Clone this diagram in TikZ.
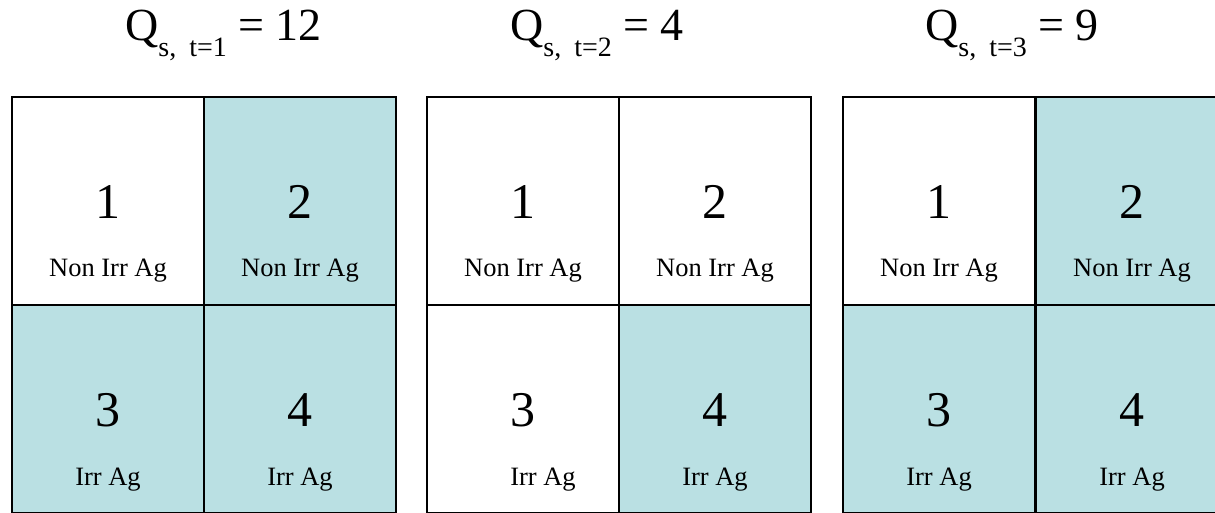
\documentclass[tikz,border=0pt]{standalone}
\usepackage{fontspec}
\setmainfont{Liberation Serif}
\usepackage{xcolor}
\definecolor{irrblue}{RGB}{186,224,227}

\begin{document}
\begin{tikzpicture}[x=1pt, y=-1pt,
    cell/.style={draw=black, line width=1.8pt, inner sep=0pt,
                 minimum width=192pt, minimum height=208pt},
    num/.style={font=\fontsize{50}{50}\selectfont, anchor=base, inner sep=0pt},
    lbl/.style={font=\fontsize{26.5}{26.5}\selectfont, anchor=base, inner sep=0pt},
    qtitle/.style={font=\fontsize{46}{46}\selectfont, anchor=base west, inner sep=0pt}]
        \useasboundingbox (0,0) rectangle (1215,512);
        %grid 1
        \node[cell, fill=white] (g1c1) at (108,201) {};
        \node[cell, fill=irrblue] (g1c2) at (300,201) {};
        \node[cell, fill=irrblue] (g1c3) at (108,409) {};
        \node[cell, fill=irrblue] (g1c4) at (300,409) {};
        %grid 2
        \node[cell, fill=white] (g2c1) at (523,201) {};
        \node[cell, fill=white] (g2c2) at (715,201) {};
        \node[cell, fill=white] (g2c3) at (523,409) {};
        \node[cell, fill=irrblue] (g2c4) at (715,409) {};
        %grid 3
        \node[cell, fill=white] (g3c1) at (939,201) {};
        \node[cell, fill=irrblue] (g3c2) at (1132,201) {};
        \node[cell, fill=irrblue] (g3c3) at (939,409) {};
        \node[cell, fill=irrblue] (g3c4) at (1132,409) {};
        %field numbers and land use
        \node[num] (g1n1) at ([yshift=-122pt]g1c1.north) {1};
        \node[lbl] (g1l1) at ([yshift=-180pt]g1c1.north) {Non Irr Ag};
        \node[num] (g1n2) at ([yshift=-122pt]g1c2.north) {2};
        \node[lbl] (g1l2) at ([yshift=-180pt]g1c2.north) {Non Irr Ag};
        \node[num] (g1n3) at ([yshift=-122pt]g1c3.north) {3};
        \node[lbl] (g1l3) at ([yshift=-181pt]g1c3.north) {Irr Ag};
        \node[num] (g1n4) at ([yshift=-122pt]g1c4.north) {4};
        \node[lbl] (g1l4) at ([yshift=-181pt]g1c4.north) {Irr Ag};
        \node[num] (g2n1) at ([yshift=-122pt]g2c1.north) {1};
        \node[lbl] (g2l1) at ([yshift=-180pt]g2c1.north) {Non Irr Ag};
        \node[num] (g2n2) at ([yshift=-122pt]g2c2.north) {2};
        \node[lbl] (g2l2) at ([yshift=-180pt]g2c2.north) {Non Irr Ag};
        \node[num] (g2n3) at ([yshift=-122pt]g2c3.north) {3};
        \node[lbl] (g2l3) at ([xshift=20pt, yshift=-181pt]g2c3.north) {Irr Ag};
        \node[num] (g2n4) at ([yshift=-122pt]g2c4.north) {4};
        \node[lbl] (g2l4) at ([yshift=-181pt]g2c4.north) {Irr Ag};
        \node[num] (g3n1) at ([yshift=-122pt]g3c1.north) {1};
        \node[lbl] (g3l1) at ([yshift=-180pt]g3c1.north) {Non Irr Ag};
        \node[num] (g3n2) at ([yshift=-122pt]g3c2.north) {2};
        \node[lbl] (g3l2) at ([yshift=-180pt]g3c2.north) {Non Irr Ag};
        \node[num] (g3n3) at ([yshift=-122pt]g3c3.north) {3};
        \node[lbl] (g3l3) at ([yshift=-181pt]g3c3.north) {Irr Ag};
        \node[num] (g3n4) at ([yshift=-122pt]g3c4.north) {4};
        \node[lbl] (g3l4) at ([yshift=-181pt]g3c4.north) {Irr Ag};
        %titles
        \node[qtitle] (q1) at (125,40)
            {Q\raisebox{-16pt}{\fontsize{28}{28}\selectfont s,\hspace{6pt} t=1} = 12};
        \node[qtitle] (q2) at (510,40)
            {Q\raisebox{-16pt}{\fontsize{28}{28}\selectfont s,\hspace{6pt} t=2} = 4};
        \node[qtitle] (q3) at (925,40)
            {Q\raisebox{-16pt}{\fontsize{28}{28}\selectfont s,\hspace{6pt} t=3} = 9};
\end{tikzpicture}
\end{document}
